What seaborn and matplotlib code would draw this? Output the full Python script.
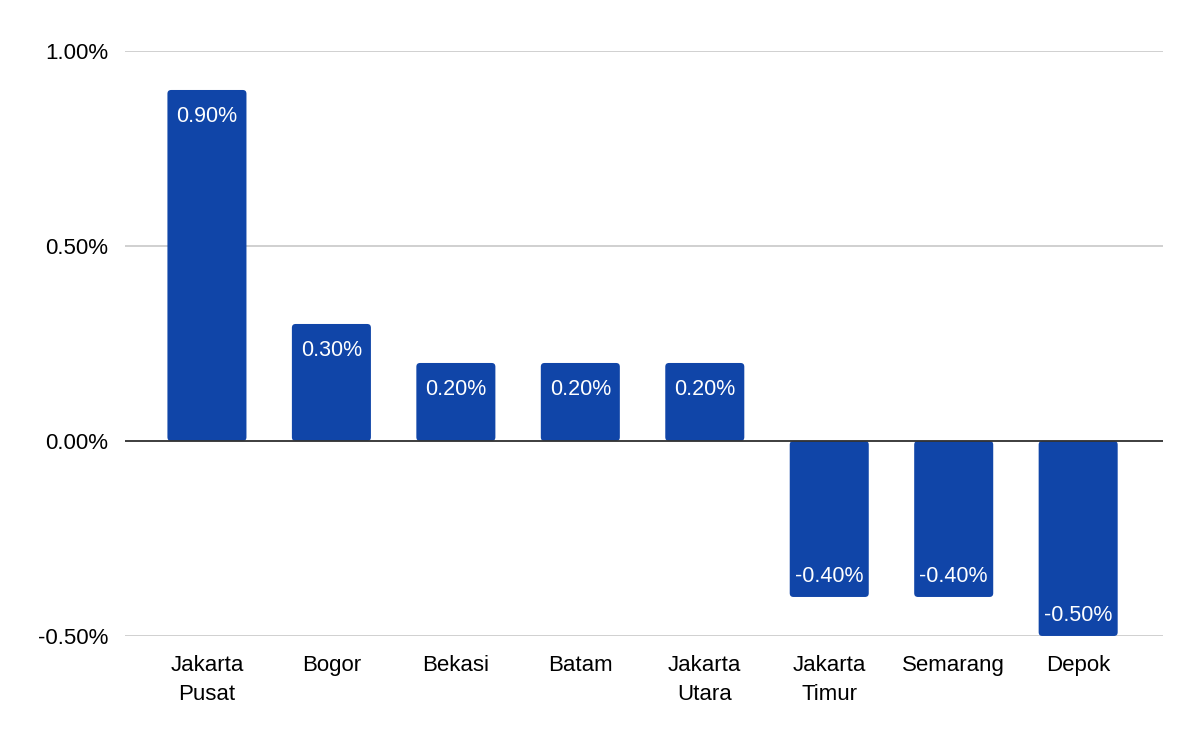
import matplotlib
matplotlib.use("Agg")
import matplotlib.pyplot as plt
from matplotlib.patches import FancyBboxPatch
import seaborn as sns
import pandas as pd

# data (percent)
kota = ["Jakarta\nPusat", "Bogor", "Bekasi", "Batam", "Jakarta\nUtara",
        "Jakarta\nTimur", "Semarang", "Depok"]
nilai = [0.90, 0.30, 0.20, 0.20, 0.20, -0.40, -0.40, -0.50]
yticks = [-0.5, 0.0, 0.5, 1.0]

df = pd.DataFrame({"Kota": kota, "Nilai": nilai})

sns.set_style("white")
plt.rcParams["font.family"] = ["Liberation Sans", "DejaVu Sans"]
plt.rcParams["text.color"] = "black"
plt.rcParams["xtick.color"] = "black"
plt.rcParams["ytick.color"] = "black"

fig = plt.figure(figsize=(12, 7.42), dpi=100)
ax = fig.add_axes([0.104, 0.1429, 0.865, 0.7884])

sns.barplot(data=df, x="Kota", y="Nilai", color="#1045a8", width=0.635,
            saturation=1, ax=ax, zorder=3)

# swap bars for slightly rounded ones
for p in list(ax.patches):
    x0, y0 = p.get_x(), p.get_y()
    w, h = p.get_width(), p.get_height()
    rb = FancyBboxPatch((x0, min(y0, y0 + h)), w, abs(h),
                        boxstyle="round,pad=0,rounding_size=0.03",
                        mutation_aspect=0.32, facecolor="#1045a8",
                        edgecolor="none", zorder=3)
    p.remove()
    ax.add_patch(rb)

ax.set_ylim(-0.5, 1.0)
ax.set_xlim(-0.66, 7.68)
ax.set_yticks(yticks)
ax.set_yticklabels([f"{t:.2f}%" for t in yticks], fontsize=16)
ax.tick_params(axis="x", labelsize=16, length=0, pad=14)
ax.tick_params(axis="y", length=0, pad=12)
for lab in ax.get_xticklabels():
    lab.set_linespacing(1.45)
ax.set_xlabel("")
ax.set_ylabel("")
ax.grid(axis="y", color="#c8c8c8", linewidth=1.2, zorder=0)
ax.axhline(0, color="#333333", linewidth=1.3, zorder=4)
for s in ax.spines.values():
    s.set_visible(False)

# labels inside bar ends
for i, v in enumerate(nilai):
    off = -19 if v > 0 else 14.5
    ax.annotate(f"{v:.2f}%", (i, v), xytext=(0, off), textcoords="offset points",
                ha="center", va="center", color="white", fontsize=15.5, zorder=5)

fig.savefig("out.png", dpi=100, facecolor="white")
